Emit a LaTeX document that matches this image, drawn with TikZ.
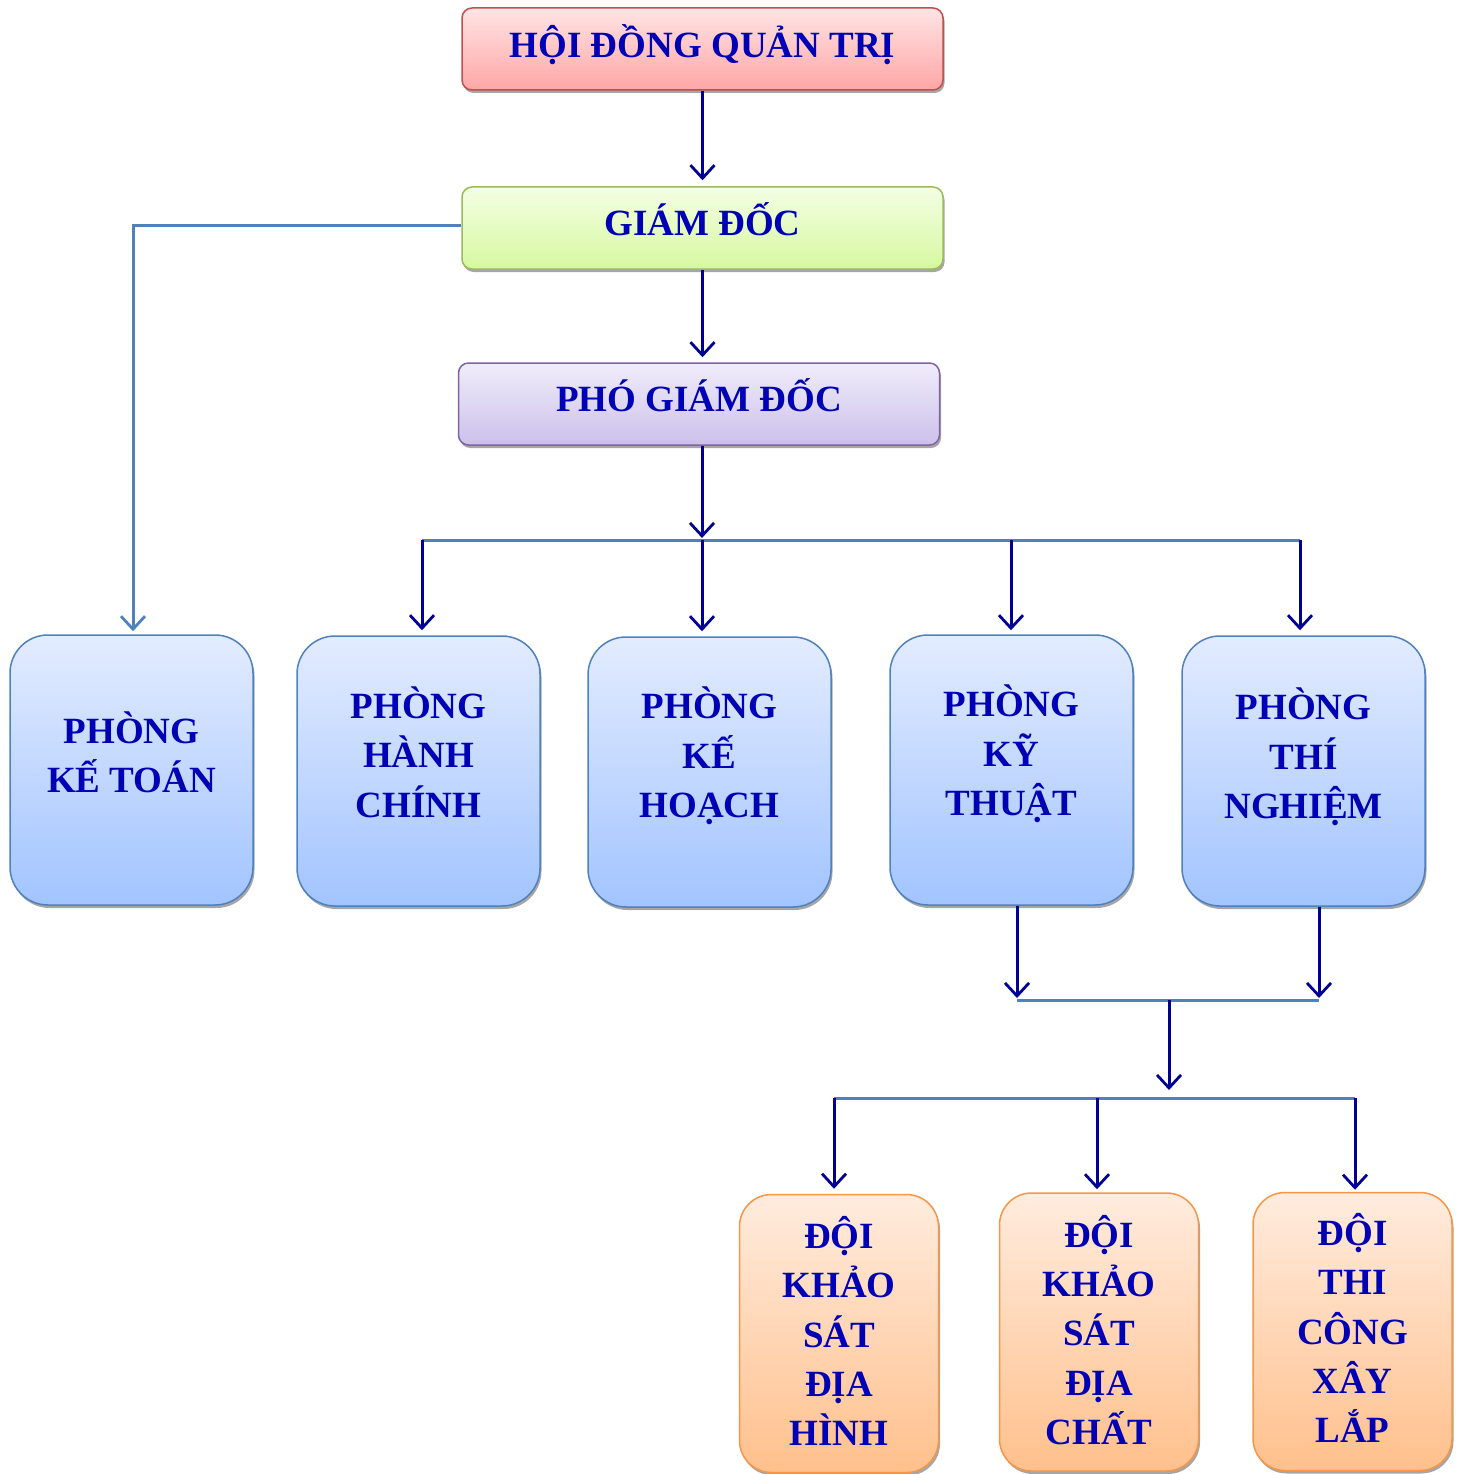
\documentclass[tikz,border=0pt]{standalone}
\usepackage{fontspec}
\setmainfont{Liberation Serif}
\usetikzlibrary{arrows.meta,shadows}
\definecolor{txt}{RGB}{0,0,180}
\definecolor{arrc}{RGB}{0,0,150}
\definecolor{busc}{RGB}{79,129,189}
\definecolor{redb}{RGB}{192,80,77}
\definecolor{greenb}{RGB}{155,187,89}
\definecolor{purpb}{RGB}{128,100,162}
\definecolor{blueb}{RGB}{79,129,189}
\definecolor{orangeb}{RGB}{247,150,70}
\begin{document}
\begin{tikzpicture}[x=1pt,y=-1pt,
  box/.style={line width=1.5pt, inner sep=0pt,
    drop shadow={shadow xshift=1.5pt,shadow yshift=-3pt,fill=black!50,opacity=0.7}},
  topbox/.style={box, rounded corners=10pt, minimum width=481pt, minimum height=82pt},
  redbox/.style={topbox, draw=redb, top color={rgb,255:red,255;green,228;blue,228}, bottom color={rgb,255:red,255;green,166;blue,166}},
  greenbox/.style={topbox, draw=greenb, top color={rgb,255:red,244;green,255;blue,228}, bottom color={rgb,255:red,214;green,248;blue,160}},
  purpbox/.style={topbox, draw=purpb, top color={rgb,255:red,240;green,237;blue,250}, bottom color={rgb,255:red,204;green,192;blue,234}},
  roombox/.style={box, rounded corners=38pt, minimum width=243pt, minimum height=270pt, draw=blueb,
    top color={rgb,255:red,227;green,236;blue,255}, bottom color={rgb,255:red,162;green,196;blue,255}},
  teambox/.style={box, rounded corners=32pt, minimum width=199pt, minimum height=278pt, draw=orangeb,
    top color={rgb,255:red,255;green,236;blue,222}, bottom color={rgb,255:red,255;green,192;blue,140}},
  lbl/.style={text=txt, font=\fontsize{37}{49.3}\selectfont\bfseries, align=center, inner sep=0pt},
  arr/.style={draw=arrc, line width=3pt, -{Straight Barb[length=13pt,width=24pt,line width=2.8pt]}},
  barr/.style={arr, draw=busc},
  bus/.style={draw=busc, line width=3pt},
]
\useasboundingbox (0,0) rectangle (1458,1474);

% top boxes
\node[redbox] (hdqt) at (702.5,49) {};
\node[lbl] (thdqt) at (702.5,45) {HỘI ĐỒNG QUẢN TRỊ};
\node[greenbox] (gd) at (702.5,228) {};
\node[lbl] (tgd) at (702.5,219) {GIÁM ĐỐC};
\node[purpbox] (pgd) at (699,404) {};
\node[lbl] (tpgd) at (699,395) {PHÓ GIÁM ĐỐC};

% rooms
\node[roombox] (pkt) at (131.5,770) {};
\node[lbl] (tpkt) at (131.5,752) {PHÒNG\\KẾ TOÁN};
\node[roombox] (phc) at (418.5,771) {};
\node[lbl] (tphc) at (418.5,752) {PHÒNG\\HÀNH\\CHÍNH};
\node[roombox] (pkh) at (709.5,772) {};
\node[lbl] (tpkh) at (709.5,756) {PHÒNG\\KẾ\\HOẠCH};
\node[roombox] (pkth) at (1011.5,770) {};
\node[lbl] (tpkth) at (1011.5,754) {PHÒNG\\KỸ\\THUẬT};
\node[roombox] (ptn) at (1303.5,771) {};
\node[lbl] (tptn) at (1303.5,757) {PHÒNG\\THÍ\\NGHIỆM};

% teams
\node[teambox] (dh) at (839,1333.5) {};
\node[lbl] (tdh) at (839,1331) {ĐỘI\\KHẢO\\SÁT\\ĐỊA\\HÌNH};
\node[teambox] (dc) at (1099,1332) {};
\node[lbl] (tdc) at (1099,1330) {ĐỘI\\KHẢO\\SÁT\\ĐỊA\\CHẤT};
\node[teambox] (xl) at (1352.5,1331.5) {};
\node[lbl] (txl) at (1352.5,1328) {ĐỘI\\THI\\CÔNG\\XÂY\\LẮP};

% connectors
\draw[arr, shorten >=6pt] (hdqt.south) -- (gd.north);
\draw[arr, shorten >=5pt] (gd.south) -- (gd.south |- pgd.north);
\draw[barr, shorten >=3pt] ([yshift=3pt]gd.west) -| ([xshift=1.5pt]pkt.north);

\coordinate (b1) at (702,540);
\coordinate (d1) at (422,540);
\coordinate (d2) at (702,540);
\coordinate (d3) at (1011,540);
\coordinate (d4) at (1300,540);
\draw[bus] (d1) -- (d4);
\draw[arr, shorten >=2pt] (b1 |- pgd.south) -- (b1);
\draw[arr, shorten >=5pt] (d1) -- (d1 |- phc.north);
\draw[arr, shorten >=5pt] (d2) -- (d2 |- pkh.north);
\draw[arr, shorten >=4pt] (d3) -- (d3 |- pkth.north);
\draw[arr, shorten >=5pt] (d4) -- (d4 |- ptn.north);

\coordinate (e1) at (1017,1000);
\coordinate (e2) at (1319,1000);
\coordinate (b2) at (1169,1000);
\draw[bus] (e1) -- (e2);
\draw[arr, shorten >=2pt] (e1 |- pkth.south) -- (e1);
\draw[arr, shorten >=2pt] (e2 |- ptn.south) -- (e2);

\coordinate (b3) at (1169,1098);
\coordinate (f1) at (834,1098);
\coordinate (f2) at (1097,1098);
\coordinate (f3) at (1355,1098);
\draw[bus] (f1) -- (f3);
\draw[arr, shorten >=8pt] (b2) -- (b3);
\draw[arr, shorten >=5pt] (f1) -- (f1 |- dh.north);
\draw[arr, shorten >=3pt] (f2) -- (f2 |- dc.north);
\draw[arr, shorten >=2pt] (f3) -- (f3 |- xl.north);
\end{tikzpicture}
\end{document}
